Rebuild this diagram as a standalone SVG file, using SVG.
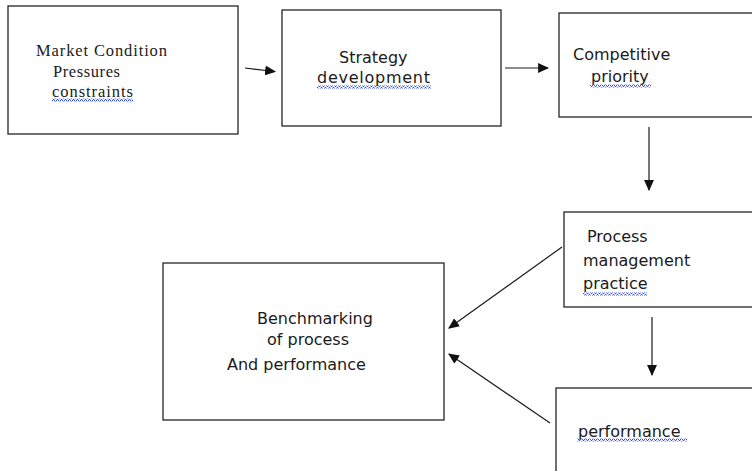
<svg xmlns="http://www.w3.org/2000/svg" width="752" height="471" viewBox="0 0 752 471">
<style>
.box{fill:#fff;stroke:#262626;stroke-width:1.3}
.t{font-family:"DejaVu Sans",sans-serif;font-size:16px;fill:#1a1a1a}
.s{font-family:"Liberation Serif",serif;font-size:16.5px;fill:#1a1a1a}
.c{stroke:#1a1a1a;stroke-width:1.2;fill:none;marker-end:url(#ah)}
.w{fill:url(#wave)}
</style>
<defs>
<marker id="ah" viewBox="0 0 10 10" refX="9" refY="5" markerWidth="11" markerHeight="11" markerUnits="userSpaceOnUse" orient="auto">
<path d="M0,0.5 L10,5 L0,9.5 Z" fill="#111"/>
</marker>
<pattern id="wave" width="4" height="3" patternUnits="userSpaceOnUse">
<path d="M0,2.5 L1,0.5 L2,0.5 L3,2.5 L4,2.5" fill="none" stroke="#3550e0" stroke-width="1"/>
</pattern>
</defs>
<rect width="752" height="471" fill="#fff"/>
<g id="market">
<rect class="box" x="8" y="6" width="230" height="128"/>
<text class="s" x="36" y="56" textLength="131" lengthAdjust="spacing">Market Condition</text>
<text class="s" x="53" y="77" textLength="67" lengthAdjust="spacing">Pressures</text>
<text class="s" x="52" y="97" textLength="81" lengthAdjust="spacing">constraints</text>
<rect class="w" x="52" y="98.5" width="81" height="3"/>
</g>
<g id="strategy">
<rect class="box" x="282" y="10" width="219" height="116"/>
<text class="t" x="339" y="63">Strategy</text>
<text class="t" x="317" y="83" textLength="113" lengthAdjust="spacing">development</text>
<rect class="w" x="317" y="85.5" width="114" height="3"/>
</g>
<g id="competitive">
<rect class="box" x="559" y="13" width="200" height="104"/>
<text class="t" x="573" y="60">Competitive</text>
<text class="t" x="591" y="82">priority</text>
<rect class="w" x="590" y="84.5" width="61" height="3"/>
</g>
<g id="process">
<rect class="box" x="564" y="212" width="200" height="95"/>
<text class="t" x="587" y="242">Process</text>
<text class="t" x="583" y="266">management</text>
<text class="t" x="583" y="289">practice</text>
<rect class="w" x="583" y="292.5" width="64" height="3"/>
</g>
<g id="performance">
<rect class="box" x="556" y="388" width="210" height="100"/>
<text class="t" x="578" y="437">performance</text>
<rect class="w" x="577" y="438.5" width="110" height="3"/>
</g>
<g id="benchmarking">
<rect class="box" x="163" y="263" width="281" height="157"/>
<text class="t" x="257" y="324">Benchmarking</text>
<text class="t" x="267" y="345">of process</text>
<text class="t" x="227" y="370">And performance</text>
</g>
<g id="connectors">
<path class="c" d="M245,68 L275,71.5"/>
<path class="c" d="M505,68 L548,68"/>
<path class="c" d="M649,127 L649,190"/>
<path class="c" d="M652,317 L652,375"/>
<path class="c" d="M562,247 L449,328"/>
<path class="c" d="M550,423 L449,354"/>
</g>
</svg>
